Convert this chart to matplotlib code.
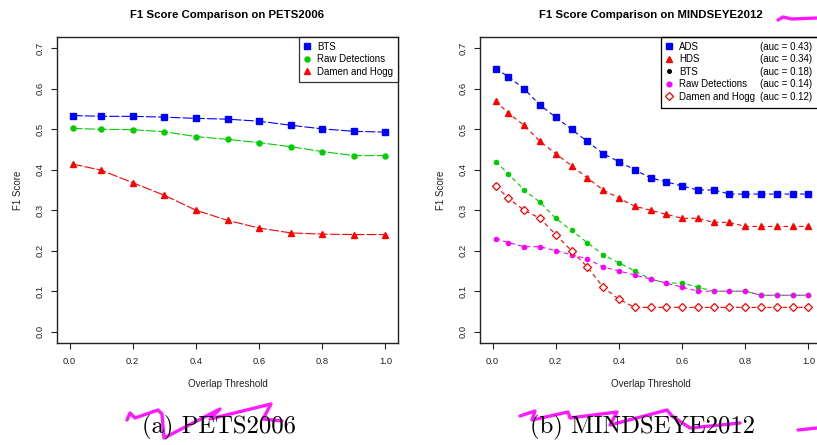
import matplotlib
matplotlib.use("Agg")
import matplotlib.pyplot as plt
from matplotlib.lines import Line2D
from matplotlib.patches import Rectangle

plt.rcParams["font.family"] = ["Liberation Sans", "DejaVu Sans"]

# PETS2006
x_pets = [0.01, 0.1, 0.2, 0.3, 0.4, 0.5, 0.6, 0.7, 0.8, 0.9, 1.0]
bts_pets = [0.534, 0.532, 0.532, 0.530, 0.527, 0.525, 0.520, 0.510, 0.501, 0.495, 0.493]
raw_pets = [0.502, 0.500, 0.499, 0.494, 0.482, 0.475, 0.467, 0.457, 0.445, 0.435, 0.435]
dh_pets = [0.414, 0.399, 0.368, 0.337, 0.300, 0.275, 0.256, 0.244, 0.241, 0.240, 0.240]

# MINDSEYE2012
x_me = [0.01, 0.05, 0.1, 0.15, 0.2, 0.25, 0.3, 0.35, 0.4, 0.45, 0.5,
        0.55, 0.6, 0.65, 0.7, 0.75, 0.8, 0.85, 0.9, 0.95, 1.0]
ads_me = [0.65, 0.63, 0.60, 0.56, 0.53, 0.50, 0.47, 0.44, 0.42, 0.40, 0.38,
          0.37, 0.36, 0.35, 0.35, 0.34, 0.34, 0.34, 0.34, 0.34, 0.34]
hds_me = [0.57, 0.54, 0.51, 0.47, 0.44, 0.41, 0.38, 0.35, 0.33, 0.31, 0.30,
          0.29, 0.28, 0.28, 0.27, 0.27, 0.26, 0.26, 0.26, 0.26, 0.26]
bts_me = [0.42, 0.39, 0.35, 0.32, 0.28, 0.25, 0.22, 0.19, 0.17, 0.15, 0.13,
          0.12, 0.12, 0.11, 0.10, 0.10, 0.10, 0.09, 0.09, 0.09, 0.09]
raw_me = [0.23, 0.22, 0.21, 0.21, 0.20, 0.19, 0.18, 0.16, 0.15, 0.14, 0.13,
          0.12, 0.11, 0.10, 0.10, 0.10, 0.10, 0.09, 0.09, 0.09, 0.09]
dh_me = [0.36, 0.33, 0.30, 0.28, 0.24, 0.20, 0.16, 0.11, 0.08, 0.06, 0.06,
         0.06, 0.06, 0.06, 0.06, 0.06, 0.06, 0.06, 0.06, 0.06, 0.06]
me_names = ["ADS", "HDS", "BTS", "Raw Detections", "Damen and Hogg"]
me_auc = ["(auc = 0.43)", "(auc = 0.34)", "(auc = 0.18)", "(auc = 0.14)", "(auc = 0.12)"]

yticks = [0.0, 0.1, 0.2, 0.3, 0.4, 0.5, 0.6, 0.7]
xticks = [0.0, 0.2, 0.4, 0.6, 0.8, 1.0]

BLUE, GREEN, RED, MAG = "#0000FF", "#00CD00", "#FF0000", "#FF00FF"

W, H = 817, 445
fig = plt.figure(figsize=(W / 100, H / 100), dpi=100)
ax1 = fig.add_axes([57 / W, 1 - 343 / H, 341 / W, 306 / H])
ax2 = fig.add_axes([480 / W, 1 - 343 / H, 341 / W, 306 / H])


def style(ax, title):
    ax.set_xlim(-0.0396, 1.0396)
    ax.set_ylim(-0.028, 0.728)
    ax.set_xticks(xticks)
    ax.set_xticklabels(["%.1f" % v for v in xticks])
    ax.set_yticks(yticks)
    ax.set_yticklabels(["%.1f" % v for v in yticks], rotation=90, va="center")
    ax.tick_params(labelsize=6.8, length=4, width=0.8, color="#222222",
                   labelcolor="#222222")
    ax.tick_params(axis="x", pad=6)
    ax.tick_params(axis="y", pad=5)
    for s in ax.spines.values():
        s.set_linewidth(1.0)
        s.set_color("#222222")
    ax.set_title(title, fontsize=8.2, fontweight="bold", pad=14)
    ax.set_xlabel("Overlap Threshold", fontsize=7, labelpad=9.5, color="#222222")
    ax.set_ylabel("F1 Score", fontsize=7, labelpad=9, color="#222222")


style(ax1, "F1 Score Comparison on PETS2006")
lw = 0.8
ax1.plot(x_pets, bts_pets, color=BLUE, lw=lw, dashes=(9, 2), marker="s", ms=4, label="BTS")
ax1.plot(x_pets, raw_pets, color=GREEN, lw=lw, dashes=(9, 2), marker="o", ms=3.6, label="Raw Detections")
ax1.plot(x_pets, dh_pets, color=RED, lw=lw, dashes=(9, 2), marker="^", ms=4.3, label="Damen and Hogg")
h1 = [Line2D([], [], ls="none", marker="s", ms=4, color=BLUE),
      Line2D([], [], ls="none", marker="o", ms=3.6, color=GREEN),
      Line2D([], [], ls="none", marker="^", ms=4.3, color=RED)]
leg1 = ax1.legend(h1, ["BTS", "Raw Detections", "Damen and Hogg"], loc="upper right",
                  fontsize=7, borderaxespad=0, fancybox=False, edgecolor="black",
                  handlelength=0.8, handletextpad=0.6, labelspacing=0.25,
                  borderpad=0.5)
leg1.get_frame().set_linewidth(0.9)

style(ax2, "F1 Score Comparison on MINDSEYE2012")
ax2.plot(x_me, ads_me, color=BLUE, lw=lw, dashes=(4, 3), marker="s", ms=4)
ax2.plot(x_me, hds_me, color=RED, lw=lw, dashes=(4, 3), marker="^", ms=4.3)
ax2.plot(x_me, bts_me, color=GREEN, lw=lw, dashes=(4, 3), marker="o", ms=3.0)
ax2.plot(x_me, raw_me, color=MAG, lw=lw, dashes=(4, 3), marker="o", ms=3.0)
ax2.plot(x_me, dh_me, color=RED, lw=lw, dashes=(4, 3), marker="D", ms=4.3,
         mfc="white", mew=0.9)
h2 = [Line2D([], [], ls="none", marker="s", ms=4, color=BLUE),
      Line2D([], [], ls="none", marker="^", ms=4.3, color=RED),
      Line2D([], [], ls="none", marker="o", ms=2.6, color="black"),
      Line2D([], [], ls="none", marker="o", ms=3.4, color=MAG),
      Line2D([], [], ls="none", marker="D", ms=4.3, color=RED, mfc="white", mew=0.9)]
blank = [Line2D([], [], ls="none") for _ in me_auc]
kw = dict(fontsize=7, borderaxespad=0, frameon=False, labelspacing=0.25, borderpad=0.5)
leg2 = ax2.legend(h2, me_names, loc="upper left", bbox_to_anchor=(0.53, 1.0),
                  handlelength=0.8, handletextpad=0.6, **kw)
ax2.add_artist(leg2)
ax2.legend(blank, me_auc, loc="upper right", bbox_to_anchor=(0.988, 1.0),
           handlelength=0, handletextpad=0, **kw)
ax2.add_patch(Rectangle((0.53, 0.769), 0.47, 0.231, transform=ax2.transAxes,
                        fill=False, ec="black", lw=0.9, clip_on=False, zorder=5))

fig.text(219 / W, 1 - 427 / H, "(a) PETS2006", family="cmr10", fontsize=17.8,
         ha="center", va="center")
fig.text(642 / W, 1 - 427 / H, "(b) MINDSEYE2012", family="cmr10", fontsize=17.8,
         ha="center", va="center")

# magenta pen strokes drawn over the page (pixel positions)
strokes = [
    [(127, 420), (130, 413), (135, 418), (158, 410), (162, 414), (164, 438),
     (220, 409), (210, 419), (271, 404), (263, 419), (282, 421)],
    [(520, 416), (535, 411), (532, 420), (568, 412), (570, 418), (617, 412),
     (610, 425), (667, 410), (672, 416), (690, 428), (740, 423)],
    [(798, 430), (817, 428)],
    [(778, 20), (783, 17), (792, 19), (817, 18)],
]
for st in strokes:
    xs = [p[0] / W for p in st]
    ys = [1 - p[1] / H for p in st]
    fig.add_artist(Line2D(xs, ys, color=MAG, lw=2.4, solid_capstyle="round",
                          solid_joinstyle="round", alpha=0.9))

fig.savefig("out.png", dpi=100)
